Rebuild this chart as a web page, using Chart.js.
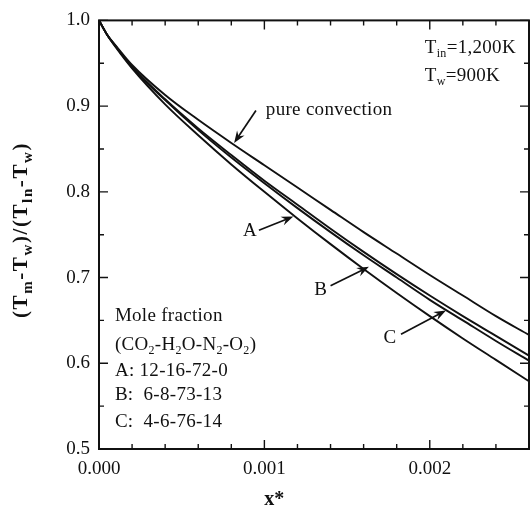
<!DOCTYPE html>
<html>
<head>
<meta charset="utf-8">
<script src="https://cdn.jsdelivr.net/npm/chart.js@4"></script>
<style>
  body { margin: 0; background: #fff; }
  canvas { display: block; }
</style>
</head>
<body>
<canvas id="chart" width="531" height="515"></canvas>
<script>
// x* positions
const xStar = [0, 0.00005, 0.0001, 0.0002, 0.0004, 0.0006, 0.0008, 0.001, 0.0012, 0.0014, 0.0016, 0.0018, 0.002, 0.0022, 0.0024, 0.0026]

// (Tm-Tw)/(Tin-Tw) for each case
const pureConvection = [1.0, 0.983, 0.971, 0.948, 0.913, 0.884, 0.857, 0.831, 0.805, 0.779, 0.753, 0.728, 0.703, 0.679, 0.655, 0.633]
const caseC = [1.0, 0.983, 0.970, 0.946, 0.908, 0.874, 0.843, 0.813, 0.785, 0.757, 0.730, 0.704, 0.679, 0.655, 0.632, 0.609]
const caseB = [1.0, 0.983, 0.970, 0.945, 0.907, 0.872, 0.840, 0.810, 0.781, 0.753, 0.726, 0.700, 0.674, 0.650, 0.626, 0.603]
const caseA = [1.0, 0.983, 0.969, 0.944, 0.902, 0.866, 0.832, 0.800, 0.769, 0.739, 0.710, 0.682, 0.655, 0.629, 0.604, 0.579]

const xTicks = [0, 0.001, 0.002]
const yTicks = [0.5, 0.6, 0.7, 0.8, 0.9, 1.0]

const FONT = 'Liberation Serif'
const INK = '#111'

// text notes, placed in data coordinates
const notes = [
  { parts: [['T', 0], ['in', 1], ['=1,200K', 0]], x: 0.00197, y: 0.9677 },
  { parts: [['T', 0], ['w', 1], ['=900K', 0]], x: 0.00197, y: 0.9353 },
  { parts: [['pure convection', 0]], x: 0.001009, y: 0.895 },
  { parts: [['Mole fraction', 0]], x: 0.000096, y: 0.6547 },
  { parts: [['(CO', 0], ['2', 1], ['-H', 0], ['2', 1], ['O-N', 0], ['2', 1], ['-O', 0], ['2', 1], [')', 0]], x: 0.000096, y: 0.6212 },
  { parts: [['A: 12-16-72-0', 0]], x: 0.000096, y: 0.5912 },
  { parts: [['B:  6-8-73-13', 0]], x: 0.000096, y: 0.5624 },
  { parts: [['C:  4-6-76-14', 0]], x: 0.000096, y: 0.5312 },
  { parts: [['A', 0]], x: 0.000913, y: 0.754, center: true },
  { parts: [['B', 0]], x: 0.00134, y: 0.686, center: true },
  { parts: [['C', 0]], x: 0.00176, y: 0.629, center: true },
]

const arrows = [
  { from: [0.000949, 0.895], to: [0.000817, 0.857] },
  { from: [0.000967, 0.7552], to: [0.001175, 0.7712] },
  { from: [0.0014, 0.6905], to: [0.001632, 0.7125] },
  { from: [0.001826, 0.634], to: [0.002098, 0.6617] },
]

function richText(ctx, parts, x, y, size, opts){
  const o = opts || {}
  const weight = o.bold ? 'bold ' : ''
  const subSize = Math.round(size * (o.subScale || 0.62))
  ctx.letterSpacing = (o.spacing || 0) + 'px'
  let total = 0
  parts.forEach(p => {
    ctx.font = weight + (p[1] ? subSize : size) + 'px "' + FONT + '"'
    total += ctx.measureText(p[0]).width
  })
  let cx = o.center ? x - total / 2 : x
  ctx.textAlign = 'left'
  ctx.textBaseline = 'middle'
  parts.forEach(p => {
    ctx.font = weight + (p[1] ? subSize : size) + 'px "' + FONT + '"'
    ctx.fillText(p[0], cx, p[1] ? y + size * 0.3 : y)
    cx += ctx.measureText(p[0]).width
  })
  ctx.letterSpacing = '0px'
}

const decorations = {
  id: 'decorations',
  afterDraw(chart){
    const ctx = chart.ctx
    const xs = chart.scales.x
    const ys = chart.scales.y
    const a = chart.chartArea
    ctx.save()
    ctx.strokeStyle = INK
    ctx.fillStyle = INK

    // frame
    ctx.lineWidth = 2
    ctx.strokeRect(a.left, a.top, a.right - a.left, a.bottom - a.top)

    // inward ticks on all four sides
    ctx.lineWidth = 1.4
    ctx.beginPath()
    for (let i = 0; i <= 13; i++){
      const px = xs.getPixelForValue(i * 0.0002)
      const len = i % 5 === 0 ? 9 : 5
      ctx.moveTo(px, a.bottom); ctx.lineTo(px, a.bottom - len)
      ctx.moveTo(px, a.top); ctx.lineTo(px, a.top + len)
    }
    for (let i = 0; i <= 10; i++){
      const py = ys.getPixelForValue(0.5 + i * 0.05)
      const len = i % 2 === 0 ? 9 : 5
      ctx.moveTo(a.left, py); ctx.lineTo(a.left + len, py)
      ctx.moveTo(a.right, py); ctx.lineTo(a.right - len, py)
    }
    ctx.stroke()

    // notes
    notes.forEach(n => {
      richText(ctx, n.parts, xs.getPixelForValue(n.x), ys.getPixelForValue(n.y), 19, { center: n.center, spacing: 0.3 })
    })

    // arrows
    arrows.forEach(ar => {
      const x1 = xs.getPixelForValue(ar.from[0]), y1 = ys.getPixelForValue(ar.from[1])
      const x2 = xs.getPixelForValue(ar.to[0]), y2 = ys.getPixelForValue(ar.to[1])
      const c = Math.cos(Math.atan2(y2 - y1, x2 - x1))
      const s = Math.sin(Math.atan2(y2 - y1, x2 - x1))
      ctx.lineWidth = 1.7
      ctx.beginPath()
      ctx.moveTo(x1, y1)
      ctx.lineTo(x2 - 6 * c, y2 - 6 * s)
      ctx.stroke()
      ctx.beginPath()
      ctx.moveTo(x2, y2)
      ctx.lineTo(x2 - 12 * c + 4.5 * s, y2 - 12 * s - 4.5 * c)
      ctx.lineTo(x2 - 8 * c, y2 - 8 * s)
      ctx.lineTo(x2 - 12 * c - 4.5 * s, y2 - 12 * s + 4.5 * c)
      ctx.closePath()
      ctx.fill()
    })

    // x axis title
    richText(ctx, [['x*', 0]], xs.getPixelForValue(0.00106), 500, 20, { bold: true, center: true })

    // y axis title with subscripts
    ctx.translate(22, 230)
    ctx.rotate(-Math.PI / 2)
    richText(ctx, [['(T', 0], ['m', 1], ['-T', 0], ['w', 1], [')/(T', 0], ['ln', 1], ['-T', 0], ['w', 1], [')', 0]], 0, 0, 21,
      { bold: true, center: true, subScale: 0.72, spacing: 1.6 })
    ctx.restore()
  }
}

function line(values){
  return {
    data: xStar.map((x, i) => ({ x: x, y: values[i] })),
    borderColor: INK,
    borderWidth: 1.9,
    pointRadius: 0,
    fill: false,
    cubicInterpolationMode: 'monotone',
  }
}

Chart.defaults.font.family = FONT
Chart.defaults.color = INK

const chart = new Chart(document.getElementById('chart'), {
  type: 'line',
  data: {
    datasets: [line(pureConvection), line(caseC), line(caseB), line(caseA)]
  },
  options: {
    responsive: false,
    animation: false,
    layout: { padding: { top: 16, right: 2, left: 0, bottom: 0 } },
    plugins: {
      legend: { display: false },
      tooltip: { enabled: false },
    },
    scales: {
      x: {
        type: 'linear',
        min: 0,
        max: 0.0026,
        grid: { display: false, drawTicks: false },
        border: { display: false },
        afterBuildTicks: s => { s.ticks = xTicks.map(v => ({ value: v })) },
        afterFit: s => { s.height = 66 },
        ticks: {
          font: { size: 19 },
          color: INK,
          padding: 9,
          maxRotation: 0,
          callback: v => v.toFixed(3),
        },
      },
      y: {
        min: 0.5,
        max: 1.0,
        grid: { display: false, drawTicks: false },
        border: { display: false },
        afterBuildTicks: s => { s.ticks = yTicks.map(v => ({ value: v })) },
        afterFit: s => { s.width = 99 },
        ticks: {
          font: { size: 19 },
          color: INK,
          padding: 9,
          callback: v => v.toFixed(1),
        },
      },
    },
  },
  plugins: [decorations],
})
</script>
</body>
</html>
